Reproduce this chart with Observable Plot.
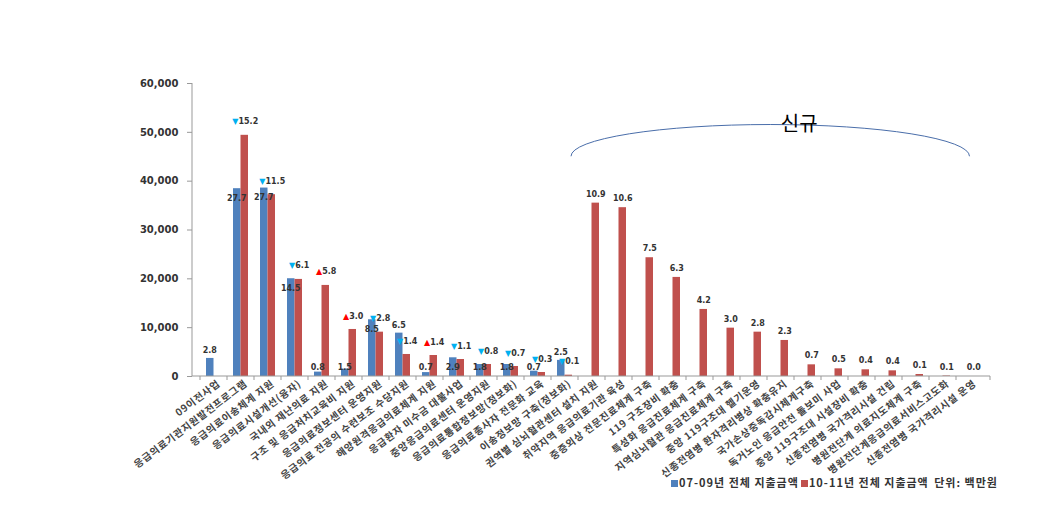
<!DOCTYPE html>
<html><head><meta charset="utf-8">
<script src="https://cdn.jsdelivr.net/npm/d3@7"></script>
<script src="https://cdn.jsdelivr.net/npm/@observablehq/plot@0.6"></script>
<style>
body{margin:0;background:#fff;}
#chart{position:relative;width:1051px;height:515px;overflow:hidden;}
#legend{position:absolute;left:671px;top:474px;font-family:"Noto Sans CJK KR",sans-serif;font-size:11px;font-weight:bold;color:#333;white-space:nowrap;letter-spacing:1px;}
#legend .sw{display:inline-block;width:7px;height:7px;margin-right:1px;vertical-align:0px;}
#legend .gap{display:inline-block;width:2px;}
g[aria-label="x-axis tick label"] text{letter-spacing:0.7px;}
</style></head><body><div id="chart"><div id="legend"></div></div>
<script>
const categories = [
  "09이전사업",
  "응급의료기관지원발전프로그램",
  "응급의료이송체계 지원",
  "응급의료시설개선(융자)",
  "국내외 재난의료 지원",
  "구조 및 응급처치교육비 지원",
  "응급의료정보센터 운영지원",
  "응급의료 전공의 수련보조 수당지원",
  "해양원격응급의료체계 지원",
  "응급환자 미수금 대불사업",
  "중앙응급의료센터 운영지원",
  "응급의료통합정보망(정보화)",
  "응급의료종사자 전문화 교육",
  "이송정보망 구축(정보화)",
  "권역별 심뇌혈관센터 설치 지원",
  "취약지역 응급의료기관 육성",
  "중증외상 전문진료체계 구축",
  "119 구조장비 확충",
  "특성화 응급진료체계 구축",
  "지역심뇌혈관 응급진료체계 구축",
  "중앙 119구조대 헬기운영",
  "신종전염병 환자격리병상 확충유지",
  "국가손상중독감시체계구축",
  "독거노인 응급안전 돌보미 사업",
  "중앙 119구조대 시설장비 확충",
  "신종전염병 국가격리시설 건립",
  "병원전단계 의료지도체계 구축",
  "병원전단계응급의료서비스고도화",
  "신종전염병 국가격리시설 운영"
];
// 07-09년 전체 지출금액 (백만원)
const spend0709 = [3700, 38460, 38590, 20020, 900, 1500, 11620, 8880, 800, 3830, 2460, 2460, 1090, 3300,
  0, 0, 0, 0, 0, 0, 0, 0, 0, 0, 0, 0, 0, 0, 0];
// 10-11년 전체 지출금액 (백만원)
const spend1011 = [0, 49390, 37230, 19880, 18650, 9630, 9080, 4510, 4300, 3480, 2460, 2050, 820, 270,
  35500, 34570, 24320, 20290, 13730, 9900, 9080, 7380, 2390, 1570, 1370, 1160, 410, 100, 0];
// 비중(%) 07-09
const share0709 = [2.8, 27.7, 27.7, 14.5, 0.8, 1.5, 8.5, 6.5, 0.7, 2.9, 1.8, 1.8, 0.7, 2.5,
  null, null, null, null, null, null, null, null, null, null, null, null, null, null, null];
// 비중(%) 10-11
const share1011 = [null, 15.2, 11.5, 6.1, 5.8, 3.0, 2.8, 1.4, 1.4, 1.1, 0.8, 0.7, 0.3, 0.1,
  10.9, 10.6, 7.5, 6.3, 4.2, 3.0, 2.8, 2.3, 0.7, 0.5, 0.4, 0.4, 0.1, 0.1, 0.0];
const newItems = categories.slice(14);
const yTicks = [0, 10000, 20000, 30000, 40000, 50000, 60000];
const seriesNames = ["07-09년 전체 지출금액", "10-11년 전체 지출금액"];
const unitNote = "단위: 백만원";
const newLabel = "신규";

const BLUE = "#4f81bd", RED = "#c0504d", UP = "#ff0000", DOWN = "#00b0f0";
const rows = categories.map((c, i) => ({cat: c, v0: spend0709[i], v1: spend1011[i], s0: share0709[i], s1: share1011[i], isNew: newItems.includes(c)}));
const numFont = "'DejaVu Sans', sans-serif";

const chart = Plot.plot({
  width: 1051, height: 515,
  marginLeft: 192, marginRight: 61, marginTop: 83, marginBottom: 139,
  style: {background: "white", fontFamily: numFont},
  x: {domain: categories, paddingInner: 0.455, paddingOuter: 0.2275, label: null},
  y: {domain: [0, 60000], label: null},
  marks: [
    Plot.barY(rows, {x: "cat", y: "v0", fill: BLUE, insetRight: 7.5}),
    Plot.barY(rows, {x: "cat", y: "v1", fill: RED, insetLeft: 7.5}),
    Plot.axisY({ticks: yTicks, tickFormat: d3.format(","), tickSize: 5, tickPadding: 9, fontSize: 10, fontWeight: "bold", fill: "#333", stroke: "#999", label: null}),
    Plot.axisX({tickSize: 0, tickRotate: -37, tickPadding: 6, dx: 5, fontSize: 10, fontWeight: "bold", fill: "#444", fontFamily: "'Noto Sans CJK KR', sans-serif", label: null}),
    // axis lines + category boundary ticks
    (index, scales, values, dims) => {
      const {x, y} = scales;
      const g = d3.create("svg:g").attr("stroke", "#999").attr("fill", "none");
      const x0 = dims.marginLeft, x1 = dims.width - dims.marginRight, y0 = y(0);
      g.append("line").attr("x1", x0).attr("x2", x1).attr("y1", y0).attr("y2", y0);
      g.append("line").attr("x1", x0).attr("x2", x0).attr("y1", y(yTicks[yTicks.length - 1])).attr("y2", y0);
      const step = x.step(), bw = x.bandwidth();
      const bounds = categories.map(c => x(c) - (step - bw) / 2).concat([x1]);
      for (const b of bounds) g.append("line").attr("x1", b).attr("x2", b).attr("y1", y0).attr("y2", y0 + 4);
      return g.node();
    },
    // 07-09 share labels (on the blue bars)
    (index, scales) => {
      const {x, y} = scales;
      const bw = x.bandwidth(), y0 = y(0);
      const g = d3.create("svg:g").attr("font-size", 8).attr("font-weight", "bold").attr("font-family", numFont)
        .attr("text-anchor", "middle").attr("fill", "#333");
      rows.filter(d => d.s0 != null).forEach(d => {
        const top = y(d.v0);
        const cy = d.v1 < 0.55 * d.v0 ? top - 7 : Math.min(top + 10, Math.max(top - 7, y0 - 9));
        g.append("text").attr("x", x(d.cat) + bw * 0.25).attr("y", cy).attr("dy", "0.32em").text(d.s0.toFixed(1));
      });
      return g.node();
    },
    // new items share labels
    Plot.text(rows.filter(d => d.isNew && d.s1 != null), {x: "cat", y: "v1", text: d => d.s1.toFixed(1), dx: 3.75, dy: -9, fontSize: 8, fontWeight: "bold", fill: "#333"}),
    // existing items: 10-11 share with up/down triangle
    (index, scales) => {
      const {x, y} = scales;
      const bw = x.bandwidth();
      const g = d3.create("svg:g").attr("font-size", 8).attr("font-weight", "bold").attr("font-family", numFont).attr("text-anchor", "middle");
      rows.filter(d => !d.isNew && d.s1 != null && d.s0 != null).forEach(d => {
        const up = d.s1 > d.s0;
        const t = g.append("text").attr("x", x(d.cat) + bw * 0.75 + 1).attr("y", y(d.v1) - 13).attr("dy", "0.32em");
        t.append("tspan").attr("fill", up ? UP : DOWN).text(up ? "▲" : "▼");
        t.append("tspan").attr("fill", "#333").text(d.s1.toFixed(1));
      });
      return g.node();
    },
    // "신규" bracket arc
    (index, scales) => {
      const {x, y} = scales;
      const step = x.step(), bw = x.bandwidth();
      const first = newItems[0], last = newItems[newItems.length - 1];
      const xl = x(first) + bw / 2 - step / 2 - 7;
      const xr = x(last) + bw / 2;
      const ye = y(45000), yt = y(51500);
      const rx = (xr - xl) / 2, ry = ye - yt;
      const g = d3.create("svg:g");
      g.append("path").attr("d", `M${xl},${ye} A${rx},${ry} 0 0 1 ${xr},${ye}`)
        .attr("fill", "none").attr("stroke", "#4a6eaa").attr("stroke-width", 1);
      g.append("text").attr("x", (xl + xr) / 2 + step + 2).attr("y", y(51600)).attr("dy", "0.36em")
        .attr("text-anchor", "middle").attr("font-size", 20).attr("font-family", "'Noto Sans CJK KR', sans-serif")
        .attr("fill", "#000").text(newLabel);
      return g.node();
    }
  ]
});
const host = document.getElementById("chart");
host.insertBefore(chart, host.firstChild);
const lg = document.getElementById("legend");
lg.innerHTML = `<span class="sw" style="background:${BLUE}"></span>${seriesNames[0]}<span class="gap"></span><span class="sw" style="background:${RED}"></span>${seriesNames[1]}<span class="gap"></span> ${unitNote}`;
</script>
</body></html>
